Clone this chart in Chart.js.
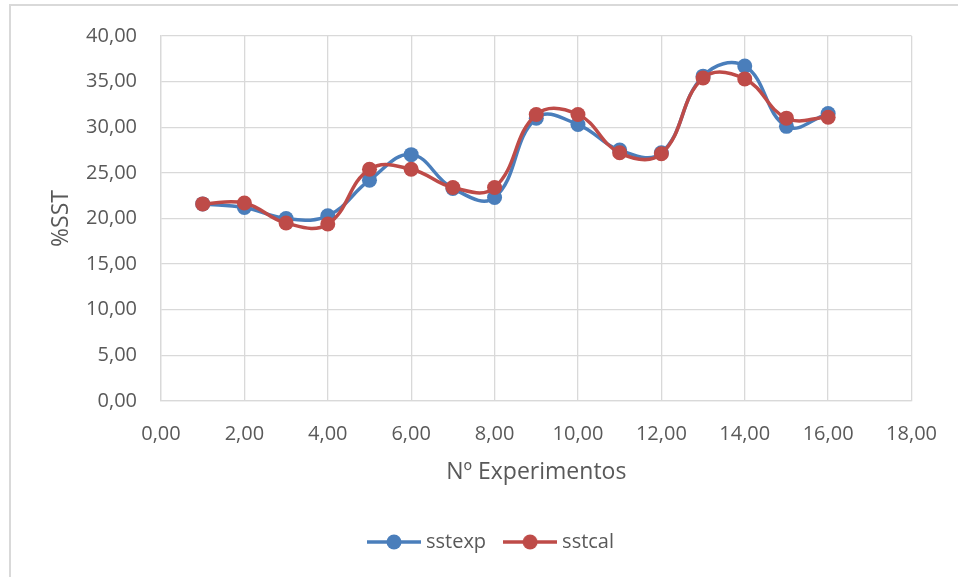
<!DOCTYPE html>
<html>
<head>
<meta charset="utf-8">
<script src="https://cdn.jsdelivr.net/npm/chart.js@4/dist/chart.umd.min.js"></script>
<style>
  html, body { margin: 0; padding: 0; background: #fff; }
  #frame { position: absolute; left: 0; top: 0; width: 958px; height: 577px; }
  #border { position: absolute; left: 9px; top: 4px; width: 960px; height: 600px;
            border-left: 2px solid #d9d9d9; border-top: 2px solid #d9d9d9; }
  canvas { position: absolute; left: 0; top: 0; }
</style>
</head>
<body>
<div id="frame">
  <div id="border"></div>
  <canvas id="chart" width="958" height="577"></canvas>
</div>
<script>
// datos
const experimentos = [1, 2, 3, 4, 5, 6, 7, 8, 9, 10, 11, 12, 13, 14, 15, 16];
const sstexp = [21.6, 21.2, 20.0, 20.3, 24.2, 27.0, 23.3, 22.3, 31.0, 30.3, 27.5, 27.2, 35.6, 36.7, 30.1, 31.5];
const sstcal = [21.6, 21.7, 19.5, 19.4, 25.4, 25.4, 23.4, 23.4, 31.4, 31.4, 27.2, 27.1, 35.4, 35.3, 31.0, 31.1];
const xTicks = [0, 2, 4, 6, 8, 10, 12, 14, 16, 18];
const yTicks = [0, 5, 10, 15, 20, 25, 30, 35, 40];

const BLUE = '#4a7ebb';
const RED = '#be4b48';
const TEXT = '#595959';
const GRID = '#d9d9d9';
const FONT = "'Open Sans', sans-serif";

// icono de leyenda: línea + círculo
function legendIcon(color) {
    const c = document.createElement('canvas');
    c.width = 54; c.height = 16;
    const ctx = c.getContext('2d');
    ctx.strokeStyle = color;
    ctx.lineWidth = 3.5;
    ctx.beginPath(); ctx.moveTo(0, 8); ctx.lineTo(54, 8); ctx.stroke();
    ctx.fillStyle = color;
    ctx.beginPath(); ctx.arc(27, 8, 7.5, 0, Math.PI * 2); ctx.fill();
    return c;
}
const icons = [legendIcon(BLUE), legendIcon(RED)];

function toPoints(ys) {
    return experimentos.map((x, i) => ({ x: x, y: ys[i] }));
}

function fmt(v) {
    return v.toFixed(2).replace('.', ',');
}

const ctx = document.getElementById('chart').getContext('2d');
new Chart(ctx, {
    type: 'line',
    data: {
        datasets: [
            { label: 'sstexp', data: toPoints(sstexp), borderColor: BLUE, backgroundColor: BLUE, order: 1 },
            { label: 'sstcal', data: toPoints(sstcal), borderColor: RED, backgroundColor: RED, order: 0 }
        ]
    },
    options: {
        responsive: false,
        animation: false,
        layout: { padding: { left: 28, right: 0, top: 34, bottom: 15 } },
        elements: {
            line: { borderWidth: 3.5, tension: 0.42, fill: false },
            point: { radius: 7.5, hoverRadius: 7.5, borderWidth: 0, pointStyle: 'circle' }
        },
        scales: {
            x: {
                type: 'linear',
                min: 0, max: 18,
                afterBuildTicks: s => { s.ticks = xTicks.map(v => ({ value: v })); },
                afterFit: s => { s.height = 109; },
                grid: { color: GRID, lineWidth: 1.3, drawTicks: false },
                border: { color: GRID, width: 1.3 },
                ticks: { color: TEXT, font: { family: FONT, size: 20 }, padding: 21, callback: v => fmt(v),
                         maxRotation: 0, autoSkip: false },
                title: { display: true, text: 'Nº Experimentos', color: TEXT,
                         font: { family: FONT, size: 23 }, padding: { top: 0, bottom: 24 } }
            },
            y: {
                min: 0, max: 40,
                afterBuildTicks: s => { s.ticks = yTicks.map(v => ({ value: v })); },
                afterFit: s => { s.width = 133; },
                grid: { color: GRID, lineWidth: 1.3, drawTicks: false },
                border: { color: GRID, width: 1.3 },
                ticks: { color: TEXT, font: { family: FONT, size: 20 }, padding: 24, callback: v => fmt(v) },
                title: { display: true, text: '%SST', color: TEXT,
                         font: { family: FONT, size: 23 }, padding: { top: 20, bottom: 0 } }
            },
            // eje invisible para dejar el margen derecho
            yRight: {
                position: 'right',
                display: true,
                afterFit: s => { s.width = 45; },
                grid: { display: false, drawOnChartArea: false },
                border: { display: false },
                ticks: { display: false }
            }
        },
        plugins: {
            legend: {
                position: 'bottom',
                labels: {
                    usePointStyle: true,
                    pointStyleWidth: 44,
                    color: TEXT,
                    font: { family: FONT, size: 20 },
                    padding: 22,
                    generateLabels: chart => chart.data.datasets.map((ds, i) => ({
                        text: ds.label, pointStyle: icons[i], fillStyle: ds.borderColor,
                        strokeStyle: ds.borderColor, lineWidth: 0, datasetIndex: i, hidden: false,
                        fontColor: TEXT
                    }))
                }
            },
            tooltip: { enabled: false }
        }
    }
});
</script>
</body>
</html>
